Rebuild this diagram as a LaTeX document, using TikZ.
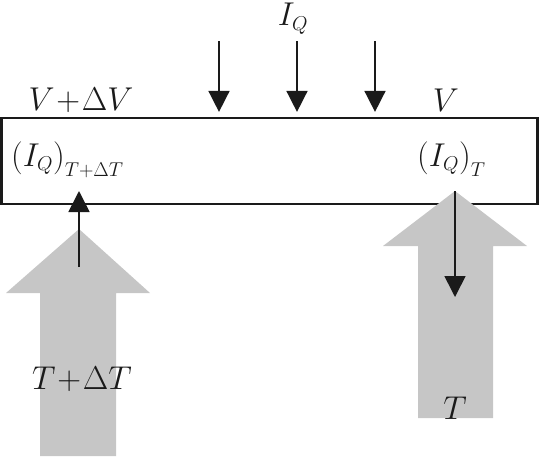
\RequirePackage{fix-cm}
\documentclass[tikz,border=0pt]{standalone}
\usepackage{amsmath}
\usetikzlibrary{arrows.meta}
\DeclareMathSizes{33}{33}{20}{15}
\definecolor{FluxGray}{HTML}{C6C6C6}
\definecolor{InkBlack}{HTML}{1A1A1A}
\newcommand{\lowsub}[1]{\raisebox{-6pt}{$\scriptstyle #1$}}

\begin{document}
\begin{tikzpicture}[x=1pt, y=-1pt,
    flow/.style={-{Triangle[length=21pt,width=21pt]}, line width=1.6pt, InkBlack},
    lbl/.style={font=\fontsize{33}{36}\selectfont, inner sep=0pt, text=InkBlack}]
  \useasboundingbox (0,0) rectangle (540,456);

  % control volume
  \node[draw=InkBlack, line width=2.2pt, minimum width=536pt, minimum height=86pt, inner sep=0pt] (duct) at (269.5,161) {};

  % temperature arrows
  \fill[FluxGray] (40,456) -- (40,293) -- (6,293) -- (79,229) -- (150,293) -- (116,293) -- (116,456) -- cycle;
  \fill[FluxGray] (418,418) -- (418,246) -- (383,246) -- (455,191) -- (527,246) -- (493,246) -- (493,418) -- cycle;

  % heat supplied along the length
  \foreach \x/\n in {219/a, 297/b, 375/c} {
    \coordinate (src\n) at (\x,41);
    \draw[flow, shorten >=5pt] (src\n) -- (src\n |- duct.north);
  }

  % fluxes at both ends
  \coordinate (inL)  at (79,267);
  \coordinate (tipL) at (79,191);
  \coordinate (inR)  at (455,191);
  \coordinate (tipR) at (455,297);
  \draw[flow] (inL) -- (tipL);
  \draw[flow] (inR) -- (tipR);

  \node[lbl] (iq)   at (293,19)  {$I_Q$};
  \node[lbl] (vin)  at (81,100)  {$V\!+\!\Delta V$};
  \node[lbl] (vout) at (446,100) {$V$};
  \node[lbl, anchor=base west] (fluxin)  at (11,166)  {$(I_Q)_{\lowsub{T+\Delta T}}$};
  \node[lbl, anchor=base west] (fluxout) at (417,166) {$(I_Q)_{\lowsub{T}}$};
  \node[lbl] (tin)  at (82,379)  {$T\!+\!\Delta T$};
  \node[lbl] (tout) at (455,408) {$T$};
\end{tikzpicture}
\end{document}
